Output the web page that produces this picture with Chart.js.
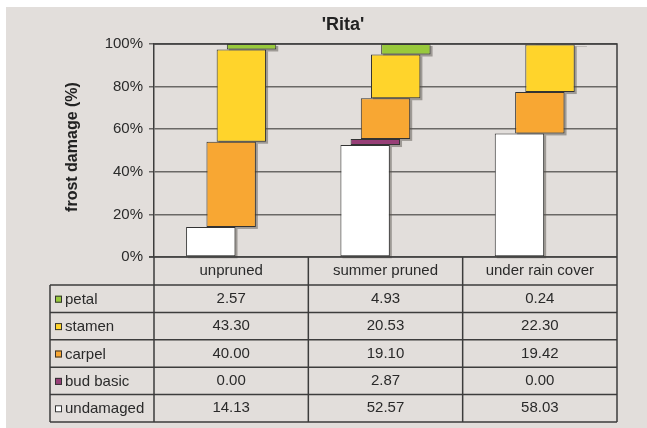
<!DOCTYPE html>
<html>
<head>
<meta charset="utf-8">
<script src="https://cdn.jsdelivr.net/npm/chart.js@4/dist/chart.umd.min.js"></script>
<style>
  html, body { margin: 0; padding: 0; background: #ffffff; }
  #wrap { width: 647px; height: 428px; }
</style>
</head>
<body>
<div id="wrap"><canvas id="result" width="647" height="428"></canvas></div>
<script>
// data
const categories = ['unpruned', 'summer pruned', 'under rain cover'];
const undamaged = [14.13, 52.57, 58.03];
const budBasic = [0.00, 2.87, 0.00];
const carpel = [40.00, 19.10, 19.42];
const stamen = [43.30, 20.53, 22.30];
const petal = [2.57, 4.93, 0.24];
const yTicks = [0, 20, 40, 60, 80, 100];
const chartTitle = "'Rita'";
const yTitle = 'frost damage (%)';

// drawing order, bottom of the stack first
const seriesNames = ['undamaged', 'bud basic', 'carpel', 'stamen', 'petal'];
const seriesValues = [undamaged, budBasic, carpel, stamen, petal];

const colors = {
    'undamaged': '#ffffff',
    'bud basic': '#973f77',
    'carpel': '#f8a733',
    'stamen': '#ffd42b',
    'petal': '#98c93c'
};

const font = "'Liberation Sans', Arial, sans-serif";
const lineDark = '#3c3c3c';

// floating bars: each series starts where the one below ended
let running = categories.map(() => 0);
const datasets = seriesNames.map((name, i) => {
    const vals = seriesValues[i];
    const data = vals.map((v, j) => {
        const start = running[j];
        running[j] += v;
        return v > 0 ? [start, running[j]] : null;
    });
    return {
        label: name,
        data,
        backgroundColor: colors[name],
        borderColor: '#333333',
        borderWidth: 1,
        borderSkipped: false,
        categoryPercentage: 0.33,
        barPercentage: 4.85
    };
});

const backgroundPlugin = {
    id: 'background',
    beforeDraw(chart) {
        const ctx = chart.ctx;
        ctx.save();
        ctx.fillStyle = '#ffffff';
        ctx.fillRect(0, 0, chart.width, chart.height);
        ctx.fillStyle = '#e2dedb';
        ctx.fillRect(6, 7, chart.width - 6, chart.height - 7);
        ctx.restore();
    }
};

const shadowPlugin = {
    id: 'shadows',
    beforeDatasetsDraw(chart) {
        const ctx = chart.ctx;
        ctx.save();
        ctx.fillStyle = 'rgba(90, 85, 80, 0.5)';
        chart.data.datasets.forEach((ds, i) => {
            chart.getDatasetMeta(i).data.forEach(el => {
                if (el.skip) return;
                const p = el.getProps(['x', 'y', 'base', 'width'], true);
                if (isNaN(p.y)) return;
                const top = Math.min(p.y, p.base);
                const h = Math.abs(p.base - p.y);
                ctx.fillRect(p.x - p.width / 2 + 2, top + 2, p.width, h);
            });
        });
        ctx.restore();
    }
};

const textPlugin = {
    id: 'texts',
    afterDraw(chart) {
        const ctx = chart.ctx;
        const area = chart.chartArea;
        const x = chart.scales.x;
        ctx.save();

        // plot frame (top and right)
        ctx.strokeStyle = lineDark;
        ctx.lineWidth = 1.5;
        ctx.beginPath();
        ctx.moveTo(area.left, area.top);
        ctx.lineTo(area.right, area.top);
        ctx.lineTo(area.right, area.bottom);
        ctx.stroke();

        // title
        ctx.fillStyle = '#222222';
        ctx.font = 'bold 18px ' + font;
        ctx.textAlign = 'center';
        ctx.textBaseline = 'middle';
        ctx.fillText(chartTitle, 343, 25);

        // y axis title
        ctx.save();
        ctx.translate(73, 147);
        ctx.rotate(-Math.PI / 2);
        ctx.font = 'bold 16px ' + font;
        ctx.fillText(yTitle, 0, 0);
        ctx.restore();

        // data table
        const colW = (area.right - area.left) / categories.length;
        const headTop = area.bottom;
        const headBottom = headTop + 28;
        const rowH = 27.4;
        const legendLeft = 50;
        const rows = seriesNames.slice().reverse();
        const tableBottom = headBottom + rowH * rows.length;

        ctx.strokeStyle = lineDark;
        ctx.lineWidth = 1.5;
        ctx.beginPath();
        for (let c = 0; c <= categories.length; c++) {
            const cx = area.left + c * colW;
            ctx.moveTo(cx, headTop);
            ctx.lineTo(cx, tableBottom);
        }
        ctx.moveTo(legendLeft, headBottom);
        ctx.lineTo(legendLeft, tableBottom);
        for (let r = 0; r <= rows.length; r++) {
            const ry = headBottom + r * rowH;
            ctx.moveTo(legendLeft, ry);
            ctx.lineTo(area.right, ry);
        }
        ctx.moveTo(area.left - 5, headTop);
        ctx.lineTo(area.right, headTop);
        ctx.stroke();

        ctx.font = '15px ' + font;
        ctx.fillStyle = '#2a2a2a';
        ctx.textBaseline = 'middle';
        ctx.textAlign = 'center';
        categories.forEach((cat, j) => {
            ctx.fillText(cat, x.getPixelForValue(j), (headTop + headBottom) / 2);
        });

        rows.forEach((name, r) => {
            const cy = headBottom + r * rowH + rowH / 2;
            const vals = seriesValues[seriesNames.indexOf(name)];
            ctx.fillStyle = colors[name];
            ctx.fillRect(55, cy - 3, 7, 7);
            ctx.strokeStyle = '#333333';
            ctx.lineWidth = 1;
            ctx.strokeRect(55.5, cy - 2.5, 6, 6);
            ctx.fillStyle = '#2a2a2a';
            ctx.textAlign = 'left';
            ctx.fillText(name, 65, cy + 1);
            ctx.textAlign = 'center';
            vals.forEach((v, j) => {
                ctx.fillText(v.toFixed(2), x.getPixelForValue(j), cy);
            });
        });

        ctx.restore();
    }
};

function mountChart() {
    let ctx = document.getElementById('result').getContext('2d');
    new Chart(ctx, {
        type: 'bar',
        data: { labels: categories, datasets },
        options: {
            responsive: false,
            devicePixelRatio: 1,
            animation: false,
            layout: { padding: { left: 94, right: 30, top: 44, bottom: 171 } },
            plugins: {
                legend: { display: false },
                tooltip: { enabled: false },
                title: { display: false }
            },
            scales: {
                x: { display: false },
                y: {
                    min: yTicks[0],
                    max: yTicks[yTicks.length - 1],
                    afterFit(scale) { scale.width = 60; },
                    afterBuildTicks(scale) { scale.ticks = yTicks.map(v => ({ value: v })); },
                    ticks: {
                        callback: v => v + '%',
                        color: '#2a2a2a',
                        font: { family: font, size: 15 },
                        padding: 6
                    },
                    grid: { color: '#6a6866', lineWidth: 1.5, tickLength: 5 },
                    border: { color: lineDark, width: 1.5 }
                }
            }
        },
        plugins: [backgroundPlugin, shadowPlugin, textPlugin]
    });
}

mountChart();
</script>
</body>
</html>
